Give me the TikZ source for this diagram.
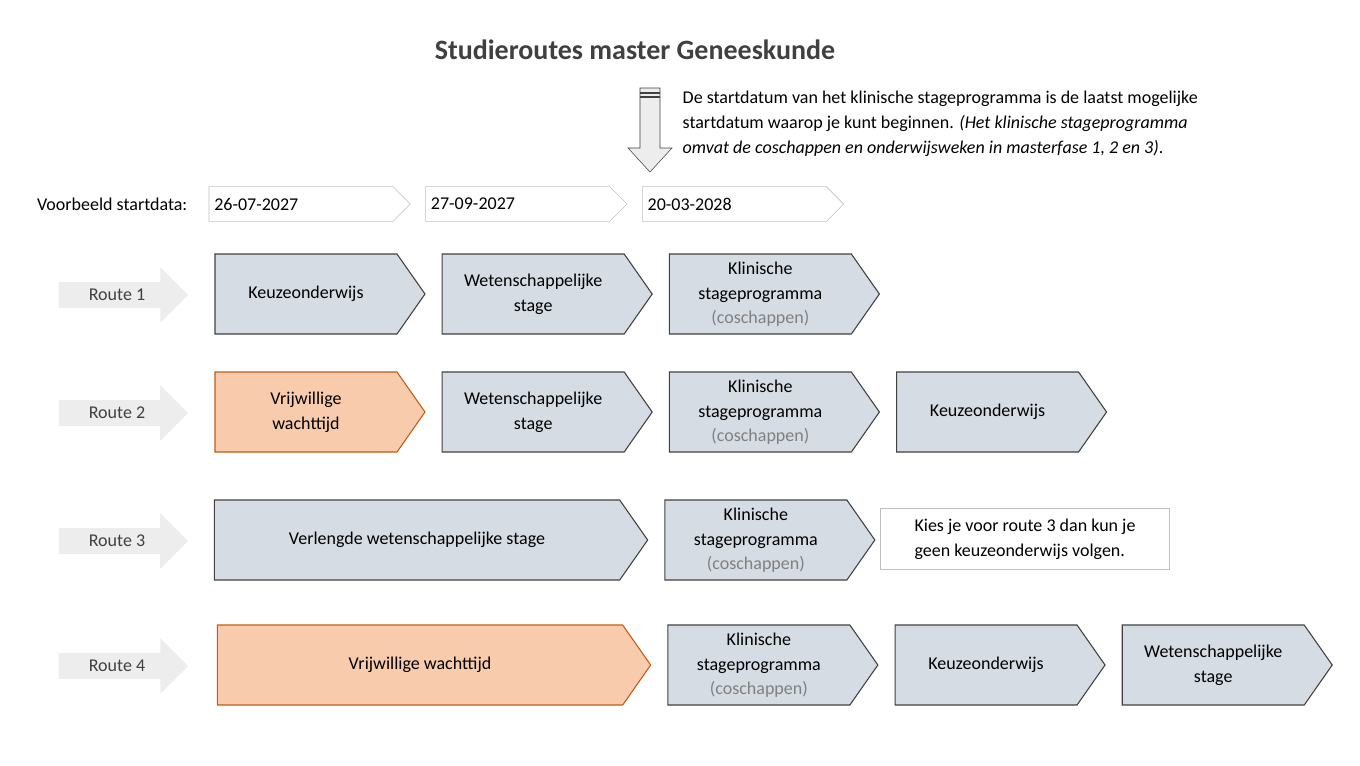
\documentclass[tikz,border=0pt]{standalone}
\usepackage{fontspec}
\setmainfont{Carlito}
\usetikzlibrary{positioning}
\usetikzlibrary{shapes.symbols,shapes.arrows}
\definecolor{stepfill}{HTML}{D6DCE4}
\definecolor{stepdraw}{HTML}{404040}
\definecolor{waitfill}{HTML}{F8CBAD}
\definecolor{waitdraw}{HTML}{C55A11}
\definecolor{lightline}{HTML}{BFBFBF}
\definecolor{routefill}{HTML}{EDEDED}
\definecolor{textgrey}{HTML}{404040}
\tikzset{%
  phase/.style = {signal,signal to=east,signal pointer angle=110,draw=stepdraw,
        fill=stepfill,thick,minimum width=157.5pt,minimum height=60pt,
        align=center,inner sep=2pt,font=\fontsize{13.5}{19}\selectfont},
  wait/.style = {phase,fill=waitfill,draw=waitdraw},
  date/.style = {signal,signal to=east,signal pointer angle=90,draw=lightline,
        minimum width=150pt,minimum height=26pt,text width=130pt,
        inner xsep=4pt,font=\fontsize{13.5}{16}\selectfont},
  route/.style = {single arrow,single arrow head extend=11.25pt,fill=routefill,
        minimum height=97pt,inner ysep=5pt,inner xsep=4pt,
        font=\fontsize{13.5}{16}\selectfont,text=textgrey}
}
\newcommand{\cosch}{\\[-1pt]{\color{gray}(coschappen)}}
\begin{document}
\begin{tikzpicture}[x=0.75pt,y=-0.75pt,node distance=1cm and 12pt,text=black]
    \useasboundingbox (0,0) rectangle (1360,765);
    \node[font=\bfseries\fontsize{21}{24}\selectfont,text=textgrey] (title) at (635,50) {Studieroutes master Geneeskunde};

    % down arrow to the third start date
    \filldraw[fill=routefill,draw=stepdraw] (640,88) -- (660,88) -- (660,148) -- (672,148)
        -- (650,172) -- (628,148) -- (640,148) -- cycle;
    \draw[stepdraw,thick] (640,93) -- (660,93) (640,97) -- (660,97);
    \node[anchor=north west,align=left,font=\fontsize{13.5}{19}\selectfont] (note-start) at (678,86)
        {De startdatum van het klinische stageprogramma is de laatst mogelijke\\
         startdatum waarop je kunt beginnen. \textit{(Het klinische stageprogramma}\\
         \textit{omvat de coschappen en onderwijsweken in masterfase 1, 2 en 3)}.};

    \node[font=\fontsize{13.5}{16}\selectfont,anchor=east] (dates) at (192,204) {Voorbeeld startdata:};
    \node[date] (date-1) at (301,204) {26-07-2027};
    \node[date] (date-2) [right=of date-1,xshift=-1pt] {27-09-2027};
    \node[date] (date-3) [right=of date-2,xshift=-1pt] {20-03-2028};

    % route 1
    \node[route] (route-1) at (117,295) {Route 1};
    \node[phase] (r1-a) at (306,294) {Keuzeonderwijs};
    \node[phase] (r1-b) [right=of r1-a] {Wetenschappelijke\\stage};
    \node[phase] (r1-c) [right=of r1-b] {Klinische\\stageprogramma\cosch};

    % route 2
    \node[route] (route-2) at (117,413) {Route 2};
    \node[wait] (r2-a) at (306,412) {Vrijwillige\\wachttijd};
    \node[phase] (r2-b) [right=of r2-a] {Wetenschappelijke\\stage};
    \node[phase] (r2-c) [right=of r2-b] {Klinische\\stageprogramma\cosch};
    \node[phase] (r2-d) [right=of r2-c] {Keuzeonderwijs};

    % route 3
    \node[route] (route-3) at (117,541) {Route 3};
    \node[phase,minimum width=325pt] (r3-a) at (417,540) {Verlengde wetenschappelijke stage};
    \node[phase] (r3-b) [right=of r3-a] {Klinische\\stageprogramma\cosch};
    \node[draw=lightline,thick,minimum width=217pt,minimum height=46pt,align=left,
          font=\fontsize{13.5}{19}\selectfont] (note-3) at (1025,539)
        {Kies je voor route 3 dan kun je\\geen keuzeonderwijs volgen.};

    % route 4
    \node[route] (route-4) at (117,666) {Route 4};
    \node[wait,minimum width=325pt] (r4-a) at (420,665) {Vrijwillige wachttijd};
    \node[phase] (r4-b) [right=of r4-a] {Klinische\\stageprogramma\cosch};
    \node[phase] (r4-c) [right=of r4-b] {Keuzeonderwijs};
    \node[phase] (r4-d) [right=of r4-c] {Wetenschappelijke\\stage};
\end{tikzpicture}
\end{document}
